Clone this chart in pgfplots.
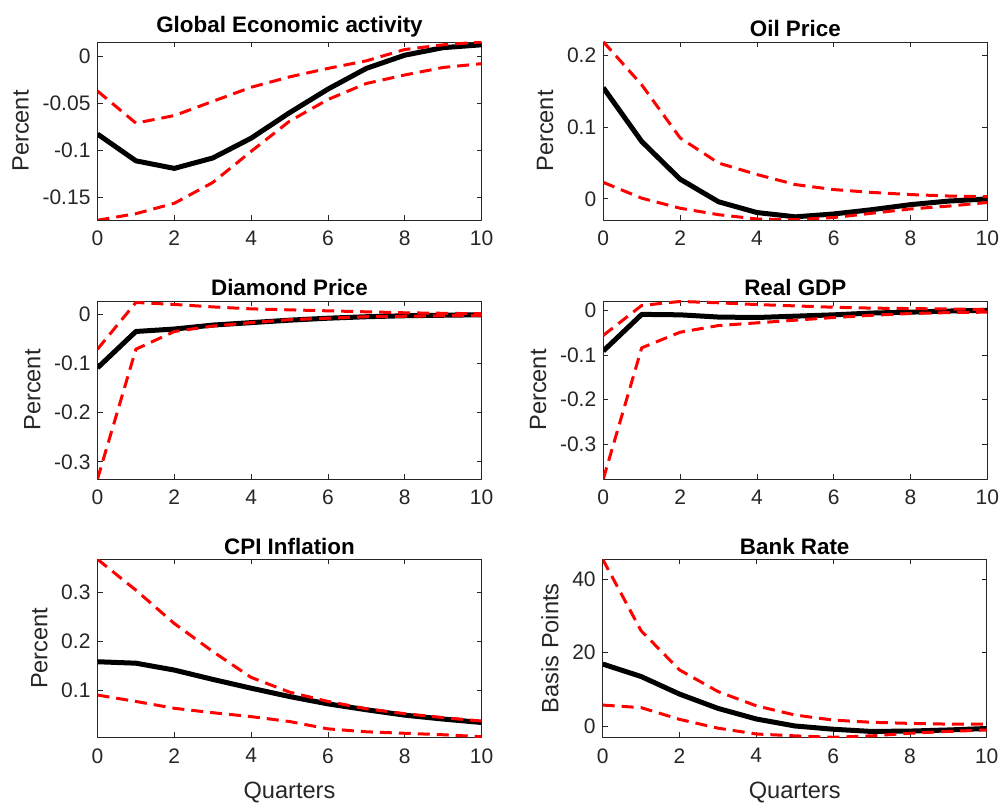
\documentclass[border=0pt]{standalone}
\usepackage{fontspec}
\setmainfont{Liberation Sans}
\usepackage{pgfplots}
\pgfplotsset{compat=1.18}
\definecolor{axgray}{gray}{0.15}
\pgfplotsset{
 irf/.style={
  scale only axis, width=192pt, height=89pt,
  xmin=0, xmax=10, xtick={0,2,4,6,8,10},
  xticklabels={0,2,4,6,8,10},
  tick align=inside, tick pos=both,
  major tick length=2.5pt,
  axis line style={axgray, line width=0.4pt},
  every tick/.style={axgray, line width=0.4pt},
  tick label style={font=\fontsize{10.5}{12}\selectfont, text=axgray},
  xticklabel style={yshift=-2pt},
  /pgf/number format/assume math mode=true,
  scaled ticks=false,
  title style={font=\fontsize{11.2}{13}\selectfont\bfseries, yshift=-7pt},
  label style={font=\fontsize{11.8}{14}\selectfont, text=axgray},
  xlabel style={yshift=-2.5pt},
  anchor=south west,
  line join=round,
 },
 med/.style={black, line width=2.5pt, line join=round},
 band/.style={red, line width=1.5pt, dash pattern=on 6pt off 3.5pt},
}
\begin{document}
\begin{tikzpicture}
% Panel 1
\begin{axis}[irf, at={(48.75pt,291pt)}, title={Global Economic activity}, ylabel={Percent},
  ymin=-0.1737, ymax=0.015, ytick={-0.15,-0.1,-0.05,0}, yticklabels={-0.15,-0.1,-0.05,0}]
\addplot[med] coordinates {(0,-0.0826) (1,-0.111) (2,-0.119) (3,-0.108) (4,-0.087) (5,-0.060) (6,-0.035) (7,-0.013) (8,0.001) (9,0.009) (10,0.012)};
\addplot[band] coordinates {(0,-0.037) (1,-0.071) (2,-0.063) (3,-0.048) (4,-0.033) (5,-0.022) (6,-0.013) (7,-0.005) (8,0.007) (9,0.012) (10,0.015)};
\addplot[band] coordinates {(0,-0.174) (1,-0.167) (2,-0.156) (3,-0.134) (4,-0.101) (5,-0.069) (6,-0.046) (7,-0.029) (8,-0.020) (9,-0.012) (10,-0.008)};
\end{axis}
% Panel 2
\begin{axis}[irf, at={(301.65pt,291pt)}, title={Oil Price}, ylabel={Percent},
  ymin=-0.0294, ymax=0.2187, ytick={0,0.1,0.2}, yticklabels={0,0.1,0.2}]
\addplot[med] coordinates {(0,0.155) (1,0.080) (2,0.0275) (3,-0.004) (4,-0.019) (5,-0.025) (6,-0.021) (7,-0.015) (8,-0.008) (9,-0.003) (10,0)};
\addplot[band] coordinates {(0,0.219) (1,0.159) (2,0.085) (3,0.050) (4,0.034) (5,0.020) (6,0.013) (7,0.009) (8,0.006) (9,0.004) (10,0.003)};
\addplot[band] coordinates {(0,0.023) (1,0.001) (2,-0.013) (3,-0.022) (4,-0.028) (5,-0.029) (6,-0.026) (7,-0.020) (8,-0.014) (9,-0.010) (10,-0.005)};
\end{axis}
% Panel 3
\begin{axis}[irf, at={(48.75pt,161.5pt)}, title={Diamond Price}, ylabel={Percent},
  ymin=-0.335, ymax=0.027, ytick={-0.3,-0.2,-0.1,0}, yticklabels={-0.3,-0.2,-0.1,0}]
\addplot[med] coordinates {(0,-0.109) (1,-0.035) (2,-0.030) (3,-0.022) (4,-0.017) (5,-0.012) (6,-0.008) (7,-0.005) (8,-0.003) (9,-0.002) (10,-0.001)};
\addplot[band] coordinates {(0,-0.071) (1,0.024) (2,0.020) (3,0.015) (4,0.011) (5,0.009) (6,0.007) (7,0.005) (8,0.003) (9,0.002) (10,0.001)};
\addplot[band] coordinates {(0,-0.335) (1,-0.071) (2,-0.035) (3,-0.024) (4,-0.017) (5,-0.011) (6,-0.008) (7,-0.005) (8,-0.004) (9,-0.003) (10,-0.002)};
\end{axis}
% Panel 4
\begin{axis}[irf, at={(301.65pt,161.5pt)}, title={Real GDP}, ylabel={Percent},
  ymin=-0.378, ymax=0.021, ytick={-0.3,-0.2,-0.1,0}, yticklabels={-0.3,-0.2,-0.1,0}]
\addplot[med] coordinates {(0,-0.091) (1,-0.009) (2,-0.010) (3,-0.015) (4,-0.016) (5,-0.013) (6,-0.010) (7,-0.006) (8,-0.004) (9,-0.0015) (10,0)};
\addplot[band] coordinates {(0,-0.056) (1,0.011) (2,0.020) (3,0.017) (4,0.013) (5,0.010) (6,0.007) (7,0.005) (8,0.004) (9,0.003) (10,0.002)};
\addplot[band] coordinates {(0,-0.378) (1,-0.084) (2,-0.049) (3,-0.034) (4,-0.028) (5,-0.022) (6,-0.016) (7,-0.011) (8,-0.007) (9,-0.005) (10,-0.004)};
\end{axis}
% Panel 5
\begin{axis}[irf, at={(48.75pt,32.35pt)}, title={CPI Inflation}, ylabel={Percent}, xlabel={Quarters},
  ymin=0.0048, ymax=0.368, ytick={0.1,0.2,0.3}, yticklabels={0.1,0.2,0.3}]
\addplot[med] coordinates {(0,0.159) (1,0.156) (2,0.142) (3,0.123) (4,0.105) (5,0.088) (6,0.073) (7,0.061) (8,0.050) (9,0.042) (10,0.035)};
\addplot[band] coordinates {(0,0.368) (1,0.305) (2,0.237) (3,0.180) (4,0.127) (5,0.097) (6,0.078) (7,0.063) (8,0.053) (9,0.045) (10,0.038)};
\addplot[band] coordinates {(0,0.091) (1,0.078) (2,0.064) (3,0.055) (4,0.047) (5,0.037) (6,0.022) (7,0.016) (8,0.013) (9,0.010) (10,0.006)};
\end{axis}
% Panel 6
\begin{axis}[irf, at={(301.35pt,32.35pt)}, title={Bank Rate}, ylabel={Basis Points}, xlabel={Quarters},
  ymin=-3.1, ymax=45.5, ytick={0,20,40}, yticklabels={0,20,40}]
\addplot[med] coordinates {(0,16.9) (1,13.5) (2,8.7) (3,4.8) (4,1.9) (5,0) (6,-0.9) (7,-1.5) (8,-1.4) (9,-1.1) (10,-0.7)};
\addplot[band] coordinates {(0,45.5) (1,26.0) (2,15.3) (3,9.4) (4,5.5) (5,3.0) (6,1.6) (7,1.0) (8,0.7) (9,0.5) (10,0.5)};
\addplot[band] coordinates {(0,5.7) (1,5.0) (2,1.8) (3,-0.6) (4,-2.2) (5,-2.7) (6,-3.1) (7,-2.7) (8,-2.0) (9,-1.5) (10,-1.1)};
\end{axis}
\pgfresetboundingbox
\useasboundingbox (0,0) rectangle (499.5pt,401pt);
\end{tikzpicture}
\end{document}
